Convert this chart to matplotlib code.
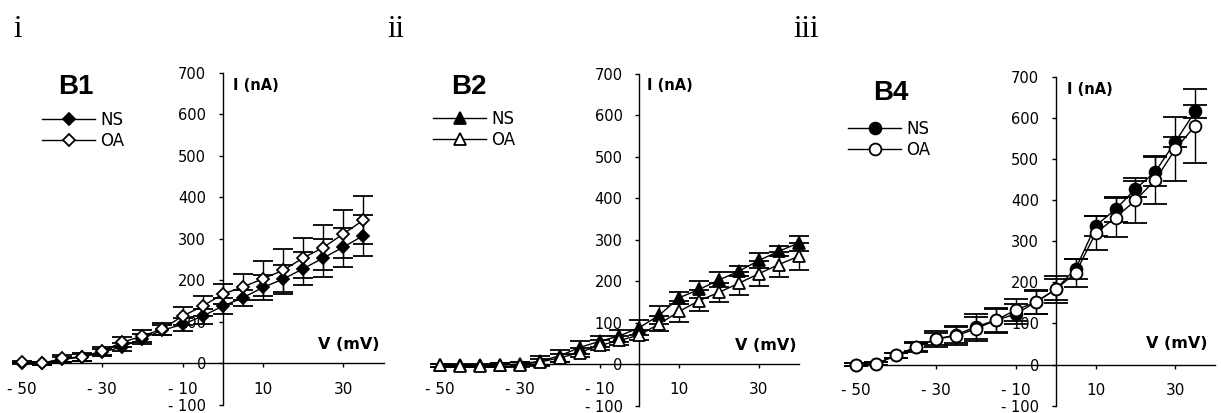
import matplotlib
matplotlib.use("Agg")
import matplotlib.pyplot as plt
import numpy as np

# ---------------- data ----------------
v_b1 = [-50, -45, -40, -35, -30, -25, -20, -15, -10, -5, 0, 5, 10, 15, 20, 25, 30, 35]
b1_ns = [1, 0, 10, 15, 27, 40, 60, 80, 94, 114, 138, 158, 183, 203, 228, 254, 280, 308]
b1_ns_err = [3, 3, 6, 8, 8, 10, 12, 12, 15, 18, 20, 20, 30, 35, 40, 46, 47, 50]
b1_oa = [3, 0, 12, 16, 30, 51, 66, 83, 114, 138, 167, 184, 204, 224, 254, 279, 312, 345]
b1_oa_err = [3, 3, 8, 10, 10, 12, 14, 15, 22, 24, 25, 32, 42, 51, 49, 55, 58, 58]

v_b2 = [-50, -45, -40, -35, -30, -25, -20, -15, -10, -5, 0, 5, 10, 15, 20, 25, 30, 35, 40]
b2_ns = [-3, -3, -3, -2, 0, 7, 20, 40, 55, 68, 88, 118, 160, 180, 203, 224, 250, 272, 292]
b2_ns_err = [3, 3, 3, 4, 5, 12, 15, 15, 14, 15, 18, 22, 15, 20, 18, 12, 18, 12, 18]
b2_oa = [-3, -5, -5, -2, -1, 5, 15, 28, 45, 57, 70, 97, 127, 153, 173, 195, 218, 240, 260]
b2_oa_err = [3, 3, 3, 4, 5, 8, 10, 12, 12, 12, 12, 18, 25, 25, 22, 28, 30, 30, 33]

v_b4 = [-50, -45, -40, -35, -30, -25, -20, -15, -10, -5, 0, 5, 10, 15, 20, 25, 30, 35]
b4_ns = [0, 2, 22, 42, 62, 72, 92, 108, 123, 152, 183, 233, 338, 378, 428, 470, 543, 617]
b4_ns_err = [3, 4, 6, 10, 15, 20, 30, 28, 25, 28, 25, 25, 25, 30, 20, 35, 12, 16]
b4_oa = [0, 2, 22, 43, 62, 70, 87, 108, 133, 152, 183, 223, 320, 358, 400, 450, 525, 582]
b4_oa_err = [3, 4, 6, 12, 20, 23, 30, 30, 27, 30, 32, 35, 42, 47, 55, 58, 77, 90]

x_ticks = [-50, -30, -10, 10, 30]
y_ticks = [-100, 0, 100, 200, 300, 400, 500, 600, 700]
series_labels = ["NS", "OA"]
panel_titles = ["B1", "B2", "B4"]
roman = ["i", "ii", "iii"]


def lab(v):
    return ("- " + str(-v)) if v < 0 else str(v)


W, H = 1221, 413
fig = plt.figure(figsize=(W / 100, H / 100), dpi=100)

panels = [
    dict(rect=[0.0178, 0.0194, 0.2963, 0.8046], v=v_b1, ns=b1_ns, nse=b1_ns_err,
         oa=b1_oa, oae=b1_oa_err, marker="D", ms=6.2, cap=7,
         ilab=(2.5, 670), vlab=(39, 46), title=(75.5, 87), leg=(42, 122)),
    dict(rect=[0.3606, 0.0180, 0.2934, 0.8030], v=v_b2, ns=b2_ns, nse=b2_ns_err,
         oa=b2_oa, oae=b2_oa_err, marker="^", ms=8, cap=7,
         ilab=(2.0, 671), vlab=(39.5, 46), title=(469, 87), leg=(433, 121)),
    dict(rect=[0.7012, 0.0180, 0.2941, 0.7950], v=v_b4, ns=b4_ns, nse=b4_ns_err,
         oa=b4_oa, oae=b4_oa_err, marker="o", ms=8.5, cap=8.5,
         ilab=(2.75, 670), vlab=(38, 51), title=(891, 93), leg=(848, 131)),
]

for k, p in enumerate(panels):
    ax = fig.add_axes(p["rect"])
    ax.set_xlim(-50, 40)
    ax.set_ylim(-100, 700)
    for s in ("top", "right"):
        ax.spines[s].set_visible(False)
    ax.spines["left"].set_position(("data", 0))
    ax.spines["bottom"].set_position(("data", 0))
    for s in ("left", "bottom"):
        ax.spines[s].set_linewidth(1.0)
        ax.spines[s].set_color("black")
    ax.set_xticks(x_ticks)
    ax.set_xticklabels([lab(t) for t in x_ticks])
    ax.set_yticks(y_ticks)
    ax.set_yticklabels([lab(t) for t in y_ticks])
    ax.tick_params(axis="x", direction="out", length=3, width=1, pad=10, labelsize=11)
    ax.tick_params(axis="y", direction="out", length=3, width=1, pad=9, labelsize=10.5)
    ax.patch.set_alpha(0)

    h_ns = ax.errorbar(p["v"], p["ns"], yerr=p["nse"], color="black", lw=1,
                       marker=p["marker"], ms=p["ms"], mfc="black", mec="black", mew=1.3,
                       capsize=p["cap"], elinewidth=1, capthick=1, clip_on=False,
                       label=series_labels[0], zorder=3)
    h_oa = ax.errorbar(p["v"], p["oa"], yerr=p["oae"], color="black", lw=1,
                       marker=p["marker"], ms=p["ms"], mfc="white", mec="black", mew=1.3,
                       capsize=p["cap"], elinewidth=1, capthick=1, clip_on=False,
                       label=series_labels[1], zorder=4)
    for h in (h_ns, h_oa):
        for c in h[1]:
            c.set_clip_on(False)
        for c in h[2]:
            c.set_clip_on(False)

    ax.text(p["ilab"][0], p["ilab"][1], "I (nA)", fontsize=10.5, fontweight="bold",
            ha="left", va="center")
    ax.text(p["vlab"][0], p["vlab"][1], "V (mV)", fontsize=11.5, fontweight="bold",
            ha="right", va="center")

    fig.text(p["title"][0] / W, 1 - p["title"][1] / H, panel_titles[k],
             fontsize=20, fontweight="bold", family="Liberation Sans",
             ha="center", va="center")

    lx, ly = p["leg"]
    ax.legend(handles=[h_ns[0], h_oa[0]], labels=series_labels, frameon=False,
              loc="upper left", bbox_to_anchor=(lx / W, 1 - (ly - 11) / H),
              bbox_transform=fig.transFigure, borderpad=0, borderaxespad=0,
              handlelength=3.2, handletextpad=0.3, labelspacing=0.2,
              fontsize=12, numpoints=1)

for k, x in enumerate([13, 387, 793]):
    fig.text(x / W, 1 - 37 / H, roman[k], fontsize=22, family="Liberation Serif",
             ha="left", va="baseline")

fig.savefig("out.png", dpi=100)
